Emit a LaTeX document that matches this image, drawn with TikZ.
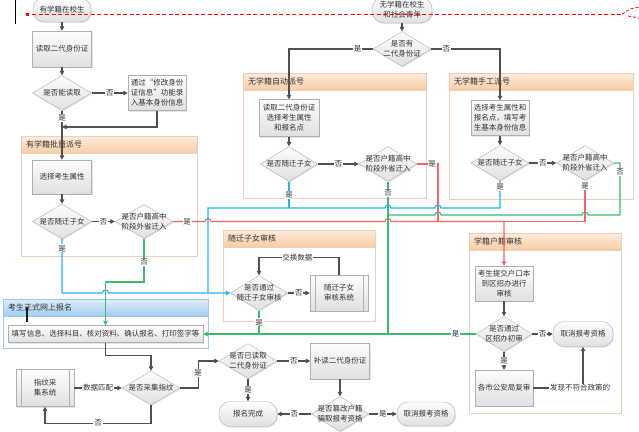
\documentclass[tikz,border=0pt]{standalone}
\usepackage{fontspec}
\setmainfont{Noto Sans CJK SC}
\usepackage{tikz}
\usetikzlibrary{shapes.geometric, arrows.meta, shadows}
\usepackage{xcolor}
\definecolor{lineGray}{RGB}{80,80,80}
\definecolor{textGray}{RGB}{50,50,50}
\definecolor{boxLine}{RGB}{175,175,175}
\definecolor{boxTop}{RGB}{253,253,253}
\definecolor{boxBot}{RGB}{224,224,224}
\definecolor{frameLine}{RGB}{234,208,186}
\definecolor{hdTop}{RGB}{253,236,220}
\definecolor{hdBot}{RGB}{248,204,164}
\definecolor{blueFrame}{RGB}{160,200,232}
\definecolor{bhTop}{RGB}{222,238,252}
\definecolor{bhBot}{RGB}{160,205,240}
\definecolor{lineBlue}{RGB}{35,180,240}
\definecolor{lineGreen}{RGB}{55,190,110}
\definecolor{lineRed}{RGB}{245,100,100}

\begin{document}
\begin{tikzpicture}[x=1pt, y=-1pt,
  every node/.style={font=\fontsize{7.5}{10}\selectfont, text=textGray},
  title/.style={font=\fontsize{8}{10}\selectfont, inner sep=0pt},
  box/.style={rectangle, draw=boxLine, top color=boxTop, bottom color=boxBot,
    minimum width=58, minimum height=35, inner sep=1pt, align=center,
    drop shadow={shadow xshift=1pt, shadow yshift=-1pt, opacity=0.2}},
  term/.style={box, rounded corners=11, minimum height=24},
  subproc/.style={box, path picture={
      \draw[boxLine] ([xshift=5pt]path picture bounding box.north west) -- ([xshift=5pt]path picture bounding box.south west);
      \draw[boxLine] ([xshift=-5pt]path picture bounding box.north east) -- ([xshift=-5pt]path picture bounding box.south east);}},
  dec/.style={diamond, draw=boxLine, top color=boxTop, bottom color=boxBot,
    minimum width=58, minimum height=35, inner sep=0pt,
    drop shadow={shadow xshift=1pt, shadow yshift=-1pt, opacity=0.2}},
  dtext/.style={align=center, inner sep=0pt},
  arr/.style={-{Triangle[length=4.5pt, width=4.5pt]}},
  conn/.style={draw=lineGray, line width=1.1pt, arr},
  blueLn/.style={draw=lineBlue, line width=1.1pt},
  greenLn/.style={draw=lineGreen, line width=1.1pt},
  redLn/.style={draw=lineRed, line width=1.1pt},
  lbl/.style={fill=white, inner sep=0.8pt}]

  \useasboundingbox (0,0) rectangle (639,431);
  \fill[white] (0,0) rectangle (639,431);

  % group frames
  \foreach \n/\xa/\ya/\xb/\yb/\t in {grpBatch/21/136/197/256/有学籍批量派号,
      grpAuto/243/73/426/198/无学籍自动派号, grpHand/449/73/633/199/无学籍手工派号,
      grpMig/223/230/375/321/随迁子女审核, grpHukou/469/233/621/413/学籍户籍审核} {
    \draw[frameLine, fill=white] (\xa,\ya) rectangle (\xb,\yb);
    \shadedraw[top color=hdTop, bottom color=hdBot, draw=frameLine] (\xa,\ya) rectangle (\xb,\ya+17);
    \node[title, anchor=west] (\n) at (\xa+5,\ya+8.5) {\t};
  }
  \draw[blueFrame, fill=white] (3,299) rectangle (208,348);
  \shadedraw[top color=bhTop, bottom color=bhBot, draw=blueFrame] (3,299) rectangle (208,316);
  \node[title, anchor=west] (grpReg) at (8,307.5) {考生正式网上报名};

  % left column
  \node[term] (t1) at (62,10) {有学籍在校生};
  \node[box, minimum width=59, minimum height=36] (b1) at (62,49) {读取二代身份证};
  \node[dec, minimum width=59, label={[dtext]center:是否能读取}] (d1) at (62,93) {};
  \node[box] (b2) at (157,93) {通过“修改身份\\证信息”功能录\\入基本身份信息};
  \node[box, minimum width=59, minimum height=34] (s1) at (62,177) {选择考生属性};
  \node[dec, minimum width=59, label={[dtext]center:是否随迁子女}] (d2) at (62,221.5) {};
  \node[dec, minimum height=34, label={[dtext]center:{是否户籍高中\\阶段外省迁入}}] (d3) at (144,221.5) {};

  % no school record
  \node[term, minimum width=60, minimum height=26, rounded corners=12] (t2) at (402,10) {无学籍在校生\\和社会青年};
  \node[dec, label={[dtext]center:{是否有\\二代身份证}}] (d4) at (402,49) {};
  \node[box, minimum width=60, minimum height=37] (a1) at (289,118) {读取二代身份证\\选择考生属性\\和报名点};
  \node[dec, minimum width=57, label={[dtext]center:是否随迁子女}] (d5) at (289,164) {};
  \node[dec, label={[dtext]center:{是否户籍高中\\阶段外省迁入}}] (d6) at (388,164) {};
  \node[box] (m1) at (500,118) {选择考生属性和\\报名点，填写考\\生基本身份信息};
  \node[dec, label={[dtext]center:是否随迁子女}] (d7) at (500,163) {};
  \node[dec, minimum width=57, label={[dtext]center:{是否户籍高中\\阶段外省迁入}}] (d8) at (585,163) {};

  % migrant children check
  \node[dec, minimum width=57, label={[dtext]center:{是否通过\\随迁子女审核}}] (d9) at (259,293) {};
  \node[subproc, minimum height=36] (sy) at (339,293) {随迁子女\\审核系统};

  % registration
  \node[box, minimum width=195, minimum height=17] (fb) at (105.5,334) {填写信息、选择科目、核对资料、确认报名、打印签字等};
  \node[dec, minimum height=34, label={[dtext]center:是否采集指纹}] (d10) at (151,388) {};
  \node[subproc, minimum height=37] (fp) at (45,388) {指纹采\\集系统};
  \node[dec, label={[dtext]center:{是否已读取\\二代身份证}}] (d11) at (248,361) {};
  \node[box, minimum width=59, minimum height=36] (b3) at (340,361) {补读二代身份证};
  \node[term, minimum height=25] (t3) at (248,414) {报名完成};
  \node[dec, minimum width=57, label={[dtext]center:{是否篡改户籍\\骗取报考资格}}] (d12) at (340,414) {};
  \node[term] (t4) at (426,414) {取消报考资格};

  % hukou check
  \node[box] (h1) at (504,283.5) {考生提交户口本\\到区招办进行\\审核};
  \node[dec, minimum width=56, label={[dtext]center:{是否通过\\区招办初审}}] (d13) at (504,334) {};
  \node[term, minimum width=60, minimum height=25] (t5) at (583,334) {取消报考资格};
  \node[box, minimum height=36] (h2) at (504,388) {各市公安局复审};

  % junctions
  \coordinate (jA) at (62,127);
  \coordinate (jR) at (438,221.5);
  \coordinate (jR2) at (504,221.5);
  \coordinate (jB) at (208,293);
  \coordinate (jB2) at (289,208);
  \coordinate (jG) at (388,334);
  \coordinate (jG2) at (259,334);
  \coordinate (jG3) at (388,215);

  % gray connectors
  \draw[conn] (t1) -- (b1);
  \draw[conn] (b1) -- (d1);
  \draw[conn] (d1) -- node[lbl]{否} (b2);
  \draw[conn] (d1) -- node[lbl, pos=0.15]{是} (s1);
  \draw[conn] (b2) |- (jA);
  \draw[conn] (s1) -- (d2);
  \draw[conn] (d2) -- node[lbl]{否} (d3);
  \draw[conn] (t2) -- (d4);
  \draw[conn] (d4) -| node[lbl, pos=0.09]{是} (a1);
  \draw[conn] (d4) -| node[lbl, pos=0.11]{否} (m1);
  \draw[conn] (a1) -- (d5);
  \draw[conn] (d5) -- node[lbl]{否} (d6);
  \draw[conn] (m1) -- (d7);
  \draw[conn] (d7) -- node[lbl]{否} (d8);
  \draw[conn] (sy.north) -- ++(0,-17) -| node[lbl, pos=0.26]{交换数据} (d9.north);
  \draw[conn] (d9) -- node[lbl]{否} (sy);
  \draw[conn] (fb.south) -- ++(0,13) -| (d10.north);
  \draw[conn] (fp) -- node[lbl]{数据匹配} (d10);
  \draw[conn] (d10.south) -- ++(0,18) -| node[lbl, pos=0.25]{否} (fp.south);
  \draw[conn] (d10.east) -- ++(18,0) |- node[lbl, pos=0.28]{是} (d11.west);
  \draw[conn] (d11) -- node[lbl]{否} (b3);
  \draw[conn] (d11) -- node[lbl]{是} (t3);
  \draw[conn] (b3) -- (d12);
  \draw[conn] (d12) -- node[lbl]{否} (t3);
  \draw[conn] (d12) -- node[lbl]{是} (t4);
  \draw[conn] (h1) -- (d13);
  \draw[conn] (d13) -- node[lbl]{否} (t5);
  \draw[conn] (d13) -- node[lbl]{是} (h2);
  \draw[conn] (h2) -| node[lbl, pos=0.47]{发现不符合政策的} (t5);

  % red: hukou moved in
  \draw[redLn, arr] (d3.east) -- node[lbl, pos=0.44]{是} (205,221.5) arc (180:0:3pt)
    -- (385,221.5) arc (180:0:3pt) -| (h1.north);
  \draw[redLn] (d6.east) -| node[lbl, pos=0.36]{是} (jR);
  \draw[redLn] (d8.south) |- node[lbl, pos=0.06]{是} (jR2);

  % blue: migrant children
  \draw[blueLn, arr] (d2.south) -- node[lbl, pos=0.17]{是} (62,293) -- (102.5,293) arc (180:0:3pt) -- (d9.west);
  \draw[blueLn] (d7.south) -- node[lbl, pos=0.24]{是} (500,208) -- (441,208) arc (0:180:3pt)
    -- (391,208) arc (0:180:3pt) -- (208,208) -- (jB);
  \draw[blueLn] (d5.south) -- node[lbl]{是} (jB2);

  % green: to registration
  \draw[greenLn, arr] (d3.south) -- node[lbl, pos=0.54]{否} (144,282) -| (fb.north);
  \draw[greenLn, arr] (d6.south) -- node[lbl, pos=0.075]{否} (jG) -- (fb.east);
  \draw[greenLn] (d8.east) -- (620,163) -- node[lbl, pos=0.17]{否} (620,215) -- (588,215) arc (0:180:3pt)
    -- (441,215) arc (0:180:3pt) -- (jG3);
  \draw[greenLn] (d13.west) -- node[lbl, pos=0.23]{是} (jG);
  \draw[greenLn] (d9.south) -- node[lbl]{是} (jG2);

  % marks on the screenshot
  \draw[black, line width=1pt] (15,0) -- (15,24);
  \draw[black!80!brown, line width=2pt] (27,307) -- (27,322);
  \fill[red] (25.5,12.5) rectangle (28.5,15.5);
  \draw[red, line width=0.8pt, dash pattern=on 4pt off 2.5pt] (32,14) -- (622,14);
  \draw[red, line width=0.8pt, dash pattern=on 3pt off 2pt] (622,14) -- (630,9) -- (639,7);
  \draw[red, line width=0.8pt, dash pattern=on 3pt off 2pt] (628,16) -- (639,18);
\end{tikzpicture}
\end{document}
